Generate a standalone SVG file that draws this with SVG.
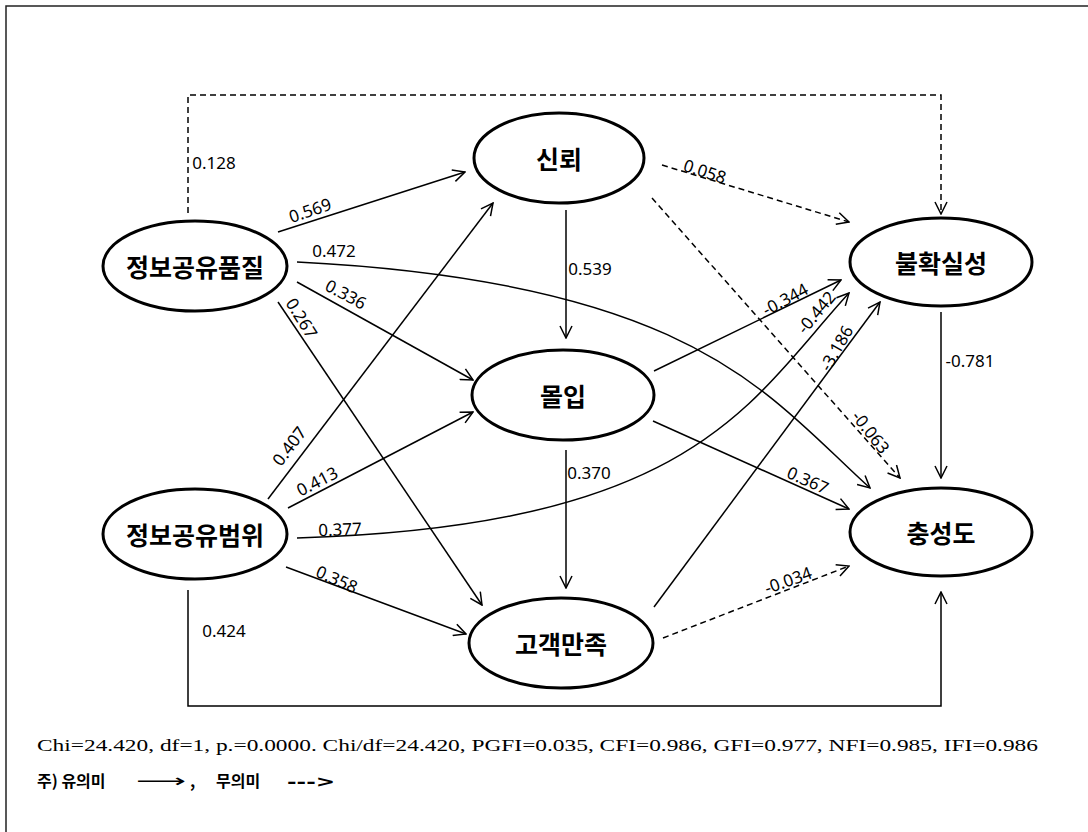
<svg xmlns="http://www.w3.org/2000/svg" width="1088" height="832" viewBox="0 0 1088 832">
<style>
.node ellipse{fill:#fff;stroke:#000;stroke-width:3}
.node text{font-family:"Noto Sans CJK KR","Noto Sans",sans-serif;font-weight:bold;font-size:25px;text-anchor:middle;dominant-baseline:central;fill:#000}
.c{fill:none;stroke:#000;stroke-width:1.5}
.s{marker-end:url(#arr)}
.d{stroke-dasharray:6 4;marker-end:url(#arr)}
.lb{font-family:"Noto Sans","Open Sans",sans-serif;font-size:17px;text-anchor:middle;dominant-baseline:central;fill:#000}
</style>
<defs>
<marker id="arr" viewBox="0 0 14 14" refX="13" refY="7" markerWidth="14" markerHeight="14" markerUnits="userSpaceOnUse" orient="auto">
<path d="M1,1 L13,7 L1,13" fill="none" stroke="#000" stroke-width="1.5"/>
</marker>
</defs>
<rect width="1088" height="832" fill="#fff"/>
<path d="M6,832 L6,6 L1088,6" fill="none" stroke="#222" stroke-width="1.5"/>

<g id="connectors">
<path class="c s" d="M278,232 L465,172"/>
<path class="c s" d="M297,262 C697,282 770,398 870,488"/>
<path class="c s" d="M297,282 L473,380"/>
<path class="c s" d="M278,302 L482,605"/>
<path class="c s" d="M268,499 L493,203"/>
<path class="c s" d="M288,508 L473,412"/>
<path class="c s" d="M297,538 C697,526 750,401 849,293"/>
<path class="c s" d="M286,567 L466,634"/>
<path class="c s" d="M188,590 L188,706 L941,706 L941,592"/>
<path class="c s" d="M566,210 L566,338"/>
<path class="c s" d="M566,450 L566,588"/>
<path class="c s" d="M654,371 L841,280"/>
<path class="c s" d="M653,421 L849,509"/>
<path class="c s" d="M654,607 L880,302"/>
<path class="c s" d="M941,312 L941,478"/>
<path class="c d" d="M188,213 L188,95 L941,95 L941,214"/>
<path class="c d" d="M662,165 L849,222"/>
<path class="c d" d="M652,198 L900,478"/>
<path class="c d" d="M663,638 L849,566"/>
<g id="edge-labels">
<text class="lb" x="214" y="162">0.128</text>
<text class="lb" transform="translate(310,210) rotate(-19)">0.569</text>
<text class="lb" x="334" y="250">0.472</text>
<text class="lb" transform="translate(346,294) rotate(28)">0.336</text>
<text class="lb" transform="translate(302,318) rotate(58)">0.267</text>
<text class="lb" transform="translate(289,446) rotate(-53)">0.407</text>
<text class="lb" transform="translate(317,481) rotate(-27)">0.413</text>
<text class="lb" transform="translate(340,529) rotate(-2)">0.377</text>
<text class="lb" transform="translate(337,579) rotate(24)">0.358</text>
<text class="lb" x="224" y="630">0.424</text>
<text class="lb" x="590" y="268">0.539</text>
<text class="lb" x="589" y="472">0.370</text>
<text class="lb" transform="translate(705,171) rotate(18)">0.058</text>
<text class="lb" transform="translate(785,299) rotate(-28)">-0.344</text>
<text class="lb" transform="translate(816,312) rotate(-50)">-0.442</text>
<text class="lb" transform="translate(836,348) rotate(-60)">-3.186</text>
<text class="lb" transform="translate(871,432) rotate(52)">-0.063</text>
<text class="lb" x="970" y="360">-0.781</text>
<text class="lb" transform="translate(808,480) rotate(24)">0.367</text>
<text class="lb" transform="translate(788,580) rotate(-20)">-0.034</text>
</g>
</g>

<g id="n-quality" class="node"><ellipse cx="195" cy="266" rx="92" ry="45"/><text x="195" y="266">정보공유품질</text></g>
<g id="n-scope" class="node"><ellipse cx="195" cy="534" rx="92" ry="45"/><text x="195" y="534">정보공유범위</text></g>
<g id="n-trust" class="node"><ellipse cx="559" cy="158" rx="85" ry="45"/><text x="559" y="158">신뢰</text></g>
<g id="n-commit" class="node"><ellipse cx="563" cy="395" rx="91" ry="45"/><text x="563" y="395">몰입</text></g>
<g id="n-satisf" class="node"><ellipse cx="561" cy="643" rx="92" ry="45"/><text x="561" y="643">고객만족</text></g>
<g id="n-uncert" class="node"><ellipse cx="941" cy="262" rx="91" ry="44"/><text x="941" y="262">불확실성</text></g>
<g id="n-loyal" class="node"><ellipse cx="941" cy="532" rx="91" ry="44"/><text x="941" y="532">충성도</text></g>

<g id="legend">
<text x="37" y="751" font-family="Liberation Serif, serif" font-size="17" textLength="1001" lengthAdjust="spacingAndGlyphs">Chi=24.420, df=1, p.=0.0000. Chi/df=24.420, PGFI=0.035, CFI=0.986, GFI=0.977, NFI=0.985, IFI=0.986</text>
<text y="787" font-family="Noto Sans CJK KR, sans-serif" font-size="16" font-weight="bold"><tspan x="37">주) 유의미</tspan><tspan x="190">,</tspan><tspan x="216">무의미</tspan></text>
<text x="136" y="787" font-family="DejaVu Sans, sans-serif" font-size="18" textLength="50" lengthAdjust="spacingAndGlyphs">⟶</text>
<text x="287" y="787" font-family="DejaVu Sans, sans-serif" font-size="15" font-weight="bold" textLength="48" lengthAdjust="spacingAndGlyphs">---&gt;</text>
</g>
</svg>
